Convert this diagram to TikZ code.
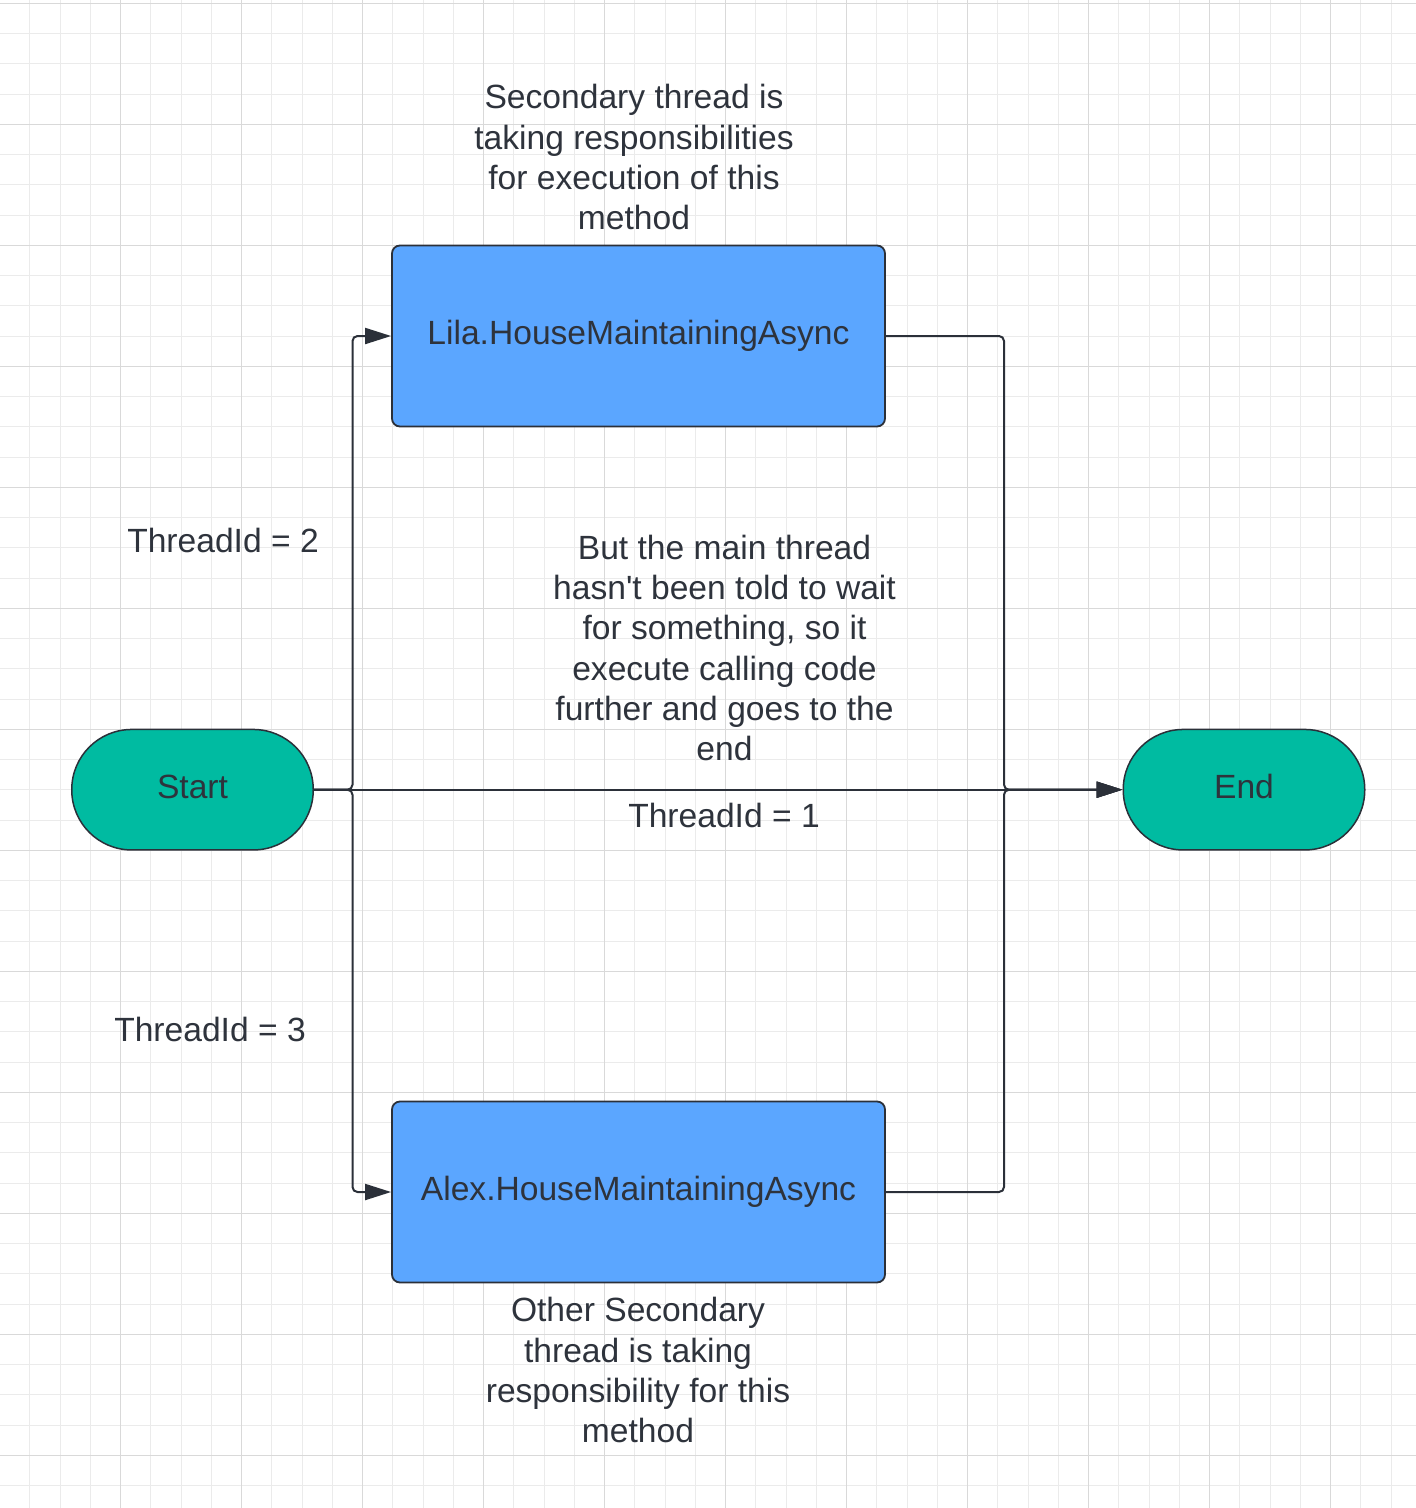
\documentclass[tikz,border=0pt]{standalone}
\usepackage{fontspec}
\setmainfont{Liberation Sans}
\newfontfamily\plainsans{Liberation Sans}
\usetikzlibrary{arrows.meta}
\definecolor{linec}{HTML}{2B3039}
\definecolor{txtc}{HTML}{2E333C}
\definecolor{boxblue}{HTML}{5BA6FF}
\definecolor{termgreen}{HTML}{00BBA1}
\definecolor{gridminor}{HTML}{EBEBEB}
\definecolor{gridmajor}{HTML}{D9D9D9}
\tikzset{
  minorgrid/.style={draw=gridminor, line width=1pt},
  majorgrid/.style={draw=gridmajor, line width=1.2pt},
  txt/.style={font=\plainsans\fontsize{33.6}{40.2}\selectfont, text=txtc, inner sep=0pt, align=center},
  procbox/.style={txt, rectangle, rounded corners=8pt, fill=boxblue, draw=linec, line width=1.8pt,
    minimum width=493pt, minimum height=181pt, text height=24pt, text depth=7pt},
  termbox/.style={txt, rectangle, rounded corners=60pt, fill=termgreen, draw=linec, line width=1.5pt,
    minimum width=241.5pt, minimum height=120.5pt, text height=24pt, text depth=7pt},
  conn/.style={draw=linec, line width=2pt, rounded corners=5pt, -{Triangle[length=26pt,width=16pt]}},
}
\begin{document}
\begin{tikzpicture}[x=1pt,y=-1pt]
\useasboundingbox (0,0) rectangle (1416,1508);
\clip (0,0) rectangle (1416,1508);
\fill[white] (0,0) rectangle (1416,1508);
% grid
\foreach \i in {0,...,46} {
  \pgfmathsetmacro{\gx}{29.75+30.25*\i}
  \draw[minorgrid] (\gx,0) -- (\gx,1508);
}
\foreach \j in {0,...,49} {
  \pgfmathsetmacro{\gy}{3.3+30.25*\j}
  \draw[minorgrid] (0,\gy) -- (1416,\gy);
}
\foreach \i in {0,...,11} {
  \pgfmathsetmacro{\gx}{120.5+121*\i}
  \draw[majorgrid] (\gx,0) -- (\gx,1508);
}
\foreach \j in {0,...,12} {
  \pgfmathsetmacro{\gy}{3.3+121*\j}
  \draw[majorgrid] (0,\gy) -- (1416,\gy);
}
% nodes
\node[procbox] (lila) at (638.5,336) {Lila.HouseMaintainingAsync};
\node[procbox] (alex) at (638.5,1192) {Alex.HouseMaintainingAsync};
\node[termbox] (start) at (192.5,789.7) {Start};
\node[termbox] (end) at (1244,789.7) {End};
\coordinate (splitL) at (352.5,789.7);
\coordinate (joinR) at (1004,789.7);
% connectors
\draw[conn] (start.east) -- (splitL) |- (lila.west);
\draw[conn] (start.east) -- (splitL) |- (alex.west);
\draw[conn] (lila.east) -| (joinR) -- (end.west);
\draw[conn] (alex.east) -| (joinR) -- (end.west);
\draw[conn] (start.east) -- (end.west);
% labels (base anchor = baseline of last line)
\node[txt, anchor=base] (secnote) at (634,229.5) {Secondary thread is\\taking responsibilities\\for execution of this\\method};
\node[txt, anchor=base] (tid2) at (223,552) {ThreadId = 2};
\node[txt, anchor=base] (mainnote) at (724.5,760.5) {But the main thread\\hasn't been told to wait\\for something, so it\\execute calling code\\further and goes to the\\end};
\node[txt, anchor=base] (tid1) at (724,827.3) {ThreadId = 1};
\node[txt, anchor=base] (tid3) at (210,1041) {ThreadId = 3};
\node[txt, anchor=base] (othernote) at (638,1442.5) {Other Secondary\\thread is taking\\responsibility for this\\method};
\end{tikzpicture}
\end{document}
